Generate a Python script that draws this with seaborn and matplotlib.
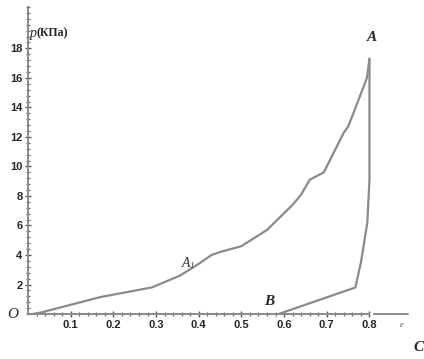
import numpy as np
import matplotlib.pyplot as plt
import pandas as pd
import seaborn as sns
from matplotlib.ticker import MultipleLocator

# loading branch O -> A1 -> A
e_load = [0.01, 0.03, 0.17, 0.29, 0.356, 0.40, 0.43, 0.45, 0.50, 0.56, 0.62, 0.64, 0.66, 0.693, 0.74, 0.75, 0.765, 0.794, 0.80]
p_load = [0.0, 0.1, 1.15, 1.8, 2.6, 3.4, 4.0, 4.2, 4.6, 5.7, 7.4, 8.1, 9.1, 9.6, 12.3, 12.7, 13.8, 16.0, 17.3]
# unloading branch A -> B
e_unload = [0.80, 0.80, 0.795, 0.78, 0.767, 0.587]
p_unload = [17.3, 9.1, 6.2, 3.5, 1.8, 0.0]

xticks = [0.1, 0.2, 0.3, 0.4, 0.5, 0.6, 0.7, 0.8]
yticks = [2, 4, 6, 8, 10, 12, 14, 16, 18]

load = pd.DataFrame({"e": e_load, "p": p_load, "branch": "load"})
unload = pd.DataFrame({"e": e_unload, "p": p_unload, "branch": "unload"})

sns.set_style("ticks")
plt.rcParams['font.family'] = ['Liberation Sans', 'DejaVu Sans']

fig = plt.figure(figsize=(4.24, 3.59), dpi=100)
ax = fig.add_axes([0.066, 0.1253, 0.896, 0.855])

grey = "#8a8a8a"
sns.lineplot(data=load, x="e", y="p", sort=False, estimator=None, color=grey, lw=1.6, ax=ax)
sns.lineplot(data=unload, x="e", y="p", sort=False, estimator=None, color=grey, lw=1.6, ax=ax)

ax.set_xlim(0, 0.89)
ax.set_ylim(0, 20.8)
ax.set_xticks(xticks)
ax.set_yticks(yticks)
ax.set_xticks(np.arange(0.02, 0.8, 0.02), minor=True)
ax.yaxis.set_minor_locator(MultipleLocator(0.4))
ax.set_xlabel("")
ax.set_ylabel("")

for s in ["top", "right"]:
    ax.spines[s].set_visible(False)
for s in ["left", "bottom"]:
    ax.spines[s].set_color(grey)
    ax.spines[s].set_linewidth(1.4)
ax.spines["bottom"].set_bounds(0, 0.8)
ax.axhline(0, xmin=0.81 / 0.89, xmax=1, color=grey, lw=1.4, clip_on=False)

ax.tick_params(axis="both", which="both", bottom=True, left=True, top=False, right=False)
ax.tick_params(axis="both", which="major", direction="inout", length=4, width=1, color="#555555",
               labelsize=8, pad=2)
ax.tick_params(axis="both", which="minor", direction="inout", length=2.5, width=0.9, color="#666666")
for lab in ax.get_xticklabels() + ax.get_yticklabels():
    lab.set_fontweight("bold")

serif = ['Liberation Serif', 'DejaVu Serif']
ax.text(0.004, 19.0, "p", family=serif, style="italic", fontsize=10, ha="left", va="center")
ax.text(0.021, 19.0, "(КПа)", family=serif, fontweight="bold", fontsize=8.5, ha="left", va="center")
ax.text(0.805, 18.3, "A", family=serif, style="italic", fontweight="bold", fontsize=11, ha="center", va="bottom")
ax.text(0.37, 3.0, "A", family=serif, style="italic", fontsize=10, ha="center", va="bottom", color="#333333")
ax.text(0.379, 3.0, "1", family=serif, style="italic", fontsize=6.5, ha="left", va="bottom", color="#333333")
ax.text(0.565, 0.4, "B", family=serif, style="italic", fontweight="bold", fontsize=11, ha="center", va="bottom")
ax.text(-0.035, 0, "O", family=serif, style="italic", fontsize=11, ha="center", va="center")
ax.text(0.875, -0.75, "e", family=serif, style="italic", fontsize=6, ha="center", va="center", color="#555555")
ax.text(0.915, -2.3, "C", family=serif, style="italic", fontweight="bold", fontsize=11, ha="center", va="center",
        clip_on=False)

plt.savefig("out.png", dpi=100)
